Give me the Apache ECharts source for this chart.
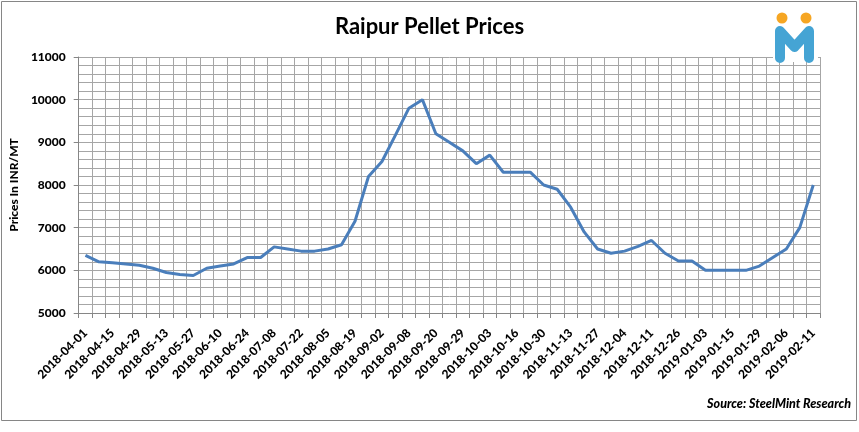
<!DOCTYPE html>
<html><head><meta charset="utf-8">
<script src="https://cdn.jsdelivr.net/npm/echarts@6/dist/echarts.min.js"></script>
<style>html,body{margin:0;padding:0;background:#fff}#c{width:859px;height:432px}</style>
</head><body><div id="c"></div>
<script>
const categories = [
 '2018-04-01','2018-04-08','2018-04-15','2018-04-22','2018-04-29','2018-05-06','2018-05-13','2018-05-20','2018-05-27','2018-06-03',
 '2018-06-10','2018-06-17','2018-06-24','2018-07-01','2018-07-08','2018-07-15','2018-07-22','2018-07-29','2018-08-05','2018-08-12',
 '2018-08-19','2018-08-26','2018-09-02','2018-09-05','2018-09-08','2018-09-14','2018-09-20','2018-09-25','2018-09-29','2018-10-01',
 '2018-10-03','2018-10-09','2018-10-16','2018-10-23','2018-10-30','2018-11-06','2018-11-13','2018-11-20','2018-11-27','2018-12-01',
 '2018-12-04','2018-12-08','2018-12-11','2018-12-18','2018-12-26','2018-12-30','2019-01-03','2019-01-09','2019-01-15','2019-01-22',
 '2019-01-29','2019-02-02','2019-02-06','2019-02-08','2019-02-11'];
const prices = [
 6350,6200,6180,6150,6120,6050,5950,5900,5880,6050,
 6100,6150,6300,6300,6550,6500,6450,6450,6500,6600,
 7150,8200,8550,9170,9800,10000,9200,9000,8800,8500,
 8700,8300,8300,8300,8000,7900,7480,6900,6500,6400,
 6450,6560,6700,6400,6220,6220,6000,6000,6000,6000,
 6100,6300,6500,7000,8000];
const titleText = 'Raipur Pellet Prices';
const yAxisName = 'Prices In INR/MT';
const sourceText = 'Source: SteelMint Research';
const yMin = 5000, yMax = 11000, yStep = 1000;

const FONT = 'Lato';
const chart = echarts.init(document.getElementById('c'), null, {renderer:'canvas'});
chart.setOption({
  animation:false,
  backgroundColor:'#fff',
  title:{text:titleText,left:'center',top:11,textStyle:{fontFamily:FONT,fontSize:22,fontWeight:'bold',color:'#000'}},
  grid:{left:67,right:39,top:57,bottom:119,containLabel:false},
  xAxis:{type:'category',data:categories,boundaryGap:true,
    axisLine:{lineStyle:{color:'#868686',width:1}},
    axisTick:{show:true,interval:0,length:5,lineStyle:{color:'#868686'}},
    splitLine:{show:true,interval:0,lineStyle:{color:'#a6a6a6',width:1}},
    axisLabel:{interval:1,rotate:45,margin:18,fontFamily:FONT,fontSize:12,fontWeight:900,color:'#000'}},
  yAxis:{type:'value',min:yMin,max:yMax,interval:yStep,
    name:yAxisName,nameLocation:'middle',nameGap:50,
    nameTextStyle:{fontFamily:FONT,fontSize:12,fontWeight:900,color:'#000'},
    axisLine:{show:true,lineStyle:{color:'#868686'}},
    axisTick:{show:true,length:5,lineStyle:{color:'#868686'}},
    splitLine:{show:true,lineStyle:{color:'#a6a6a6'}},
    minorTick:{show:false,splitNumber:5},
    minorSplitLine:{show:true,lineStyle:{color:'#a6a6a6'}},
    axisLabel:{margin:13,formatter:v=>String(v),fontFamily:FONT,fontSize:12,fontWeight:900,color:'#000'}},
  series:[{type:'line',data:prices,symbol:'none',lineStyle:{color:'#4a7ebb',width:3},z:5}],
  graphic:[
    {type:'rect',shape:{x:1.5,y:1.5,width:855,height:419},style:{fill:'none',stroke:'#868686',lineWidth:1},z:100},
    {type:'rect',shape:{x:773,y:3,width:45,height:59},style:{fill:'#fff'},z:90},
    {type:'polyline',shape:{points:[[780,58],[780,31],[794.5,47],[809,31],[809,58]]},style:{stroke:'#45a4d4',lineWidth:10,lineJoin:'round',lineCap:'round',fill:'none'},z:95},
    {type:'circle',shape:{cx:782,cy:18,r:5.5},style:{fill:'#f6a623'},z:95},
    {type:'circle',shape:{cx:806,cy:18,r:5.5},style:{fill:'#f6a623'},z:95},
    {type:'text',right:8,top:397,style:{text:sourceText,fontFamily:FONT,fontSize:12.5,fontWeight:900,fontStyle:'italic',fill:'#000'},z:95}
  ]
});
</script></body></html>
